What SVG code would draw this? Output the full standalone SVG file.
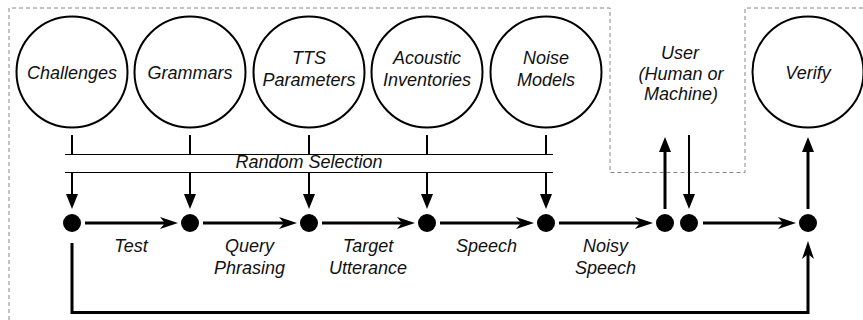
<svg xmlns="http://www.w3.org/2000/svg" width="863" height="320" viewBox="0 0 863 320">
  <style>
    .lbl { font-family: "Liberation Sans", Arial, sans-serif; font-style: italic; font-size: 18px; fill: #111; text-anchor: middle; }
    .src { fill: #fff; stroke: #000; stroke-width: 2; }
    .dot { fill: #000; }
    .thin { stroke: #000; stroke-width: 2; fill: none; }
    .thick { stroke: #000; stroke-width: 3; fill: none; }
    .band { stroke: #000; stroke-width: 1.2; }
    .frame { stroke: #888; stroke-width: 1; stroke-dasharray: 4 3; fill: none; }
  </style>
  <defs>
    <!-- barbed head for the thick flow arrows -->
    <marker id="barb" markerUnits="userSpaceOnUse" viewBox="0 0 18 12" markerWidth="18" markerHeight="12" refX="6" refY="6" orient="auto">
      <path d="M0,0 L18,6 L0,12 L5,6 Z" fill="#000"/>
    </marker>
    <!-- plain triangular head -->
    <marker id="tri" markerUnits="userSpaceOnUse" viewBox="0 0 15 12" markerWidth="15" markerHeight="12" refX="2" refY="6" orient="auto">
      <path d="M0,0 L15,6 L0,12 Z" fill="#000"/>
    </marker>
  </defs>

  <rect width="863" height="320" fill="#fff"/>

  <!-- dashed boundaries -->
  <path class="frame" d="M9,320 V8 H610 V172.5 H745 V8 H863"/>

  <!-- source circles -->
  <g id="challenges"><circle class="src" cx="72" cy="72" r="55.5"/><text class="lbl" x="72" y="79">Challenges</text></g>
  <g id="grammars"><circle class="src" cx="190" cy="72" r="55.5"/><text class="lbl" x="190" y="79">Grammars</text></g>
  <g id="tts"><circle class="src" cx="309" cy="72" r="55.5"/><text class="lbl" x="309" y="64">TTS</text><text class="lbl" x="309" y="86">Parameters</text></g>
  <g id="acoustic"><circle class="src" cx="427" cy="72" r="55.5"/><text class="lbl" x="427" y="64">Acoustic</text><text class="lbl" x="427" y="86">Inventories</text></g>
  <g id="noise"><circle class="src" cx="546" cy="72" r="55.5"/><text class="lbl" x="546" y="64">Noise</text><text class="lbl" x="546" y="86">Models</text></g>
  <g id="user"><text class="lbl" x="680" y="59">User</text><text class="lbl" x="681" y="80">(Human or</text><text class="lbl" x="681" y="100">Machine)</text></g>
  <g id="verify"><circle class="src" cx="808" cy="72" r="55.5"/><text class="lbl" x="808" y="79">Verify</text></g>

  <!-- random selection band -->
  <g id="random-selection">
    <line class="band" x1="65" y1="154.5" x2="553" y2="154.5"/>
    <line class="band" x1="65" y1="172.5" x2="553" y2="172.5"/>
    <text class="lbl" x="309" y="168">Random Selection</text>
  </g>

  <!-- pipeline points -->
  <g id="points">
    <circle class="dot" cx="72" cy="223" r="9"/>
    <circle class="dot" cx="190" cy="223" r="9"/>
    <circle class="dot" cx="309" cy="223" r="9"/>
    <circle class="dot" cx="427" cy="223" r="9"/>
    <circle class="dot" cx="546" cy="223" r="9"/>
    <circle class="dot" cx="665" cy="223" r="9"/>
    <circle class="dot" cx="689" cy="223" r="9"/>
    <circle class="dot" cx="808" cy="223" r="9"/>
  </g>

  <g id="connectors">
    <!-- circles into the band -->
    <line class="thin" x1="72" y1="135" x2="72" y2="154"/>
    <line class="thin" x1="190" y1="135" x2="190" y2="154"/>
    <line class="thin" x1="309" y1="135" x2="309" y2="154"/>
    <line class="thin" x1="427" y1="135" x2="427" y2="154"/>
    <line class="thin" x1="546" y1="135" x2="546" y2="154"/>
    <!-- band down to points -->
    <line class="thin" x1="72" y1="173" x2="72" y2="196" marker-end="url(#tri)"/>
    <line class="thin" x1="190" y1="173" x2="190" y2="196" marker-end="url(#tri)"/>
    <line class="thin" x1="309" y1="173" x2="309" y2="196" marker-end="url(#tri)"/>
    <line class="thin" x1="427" y1="173" x2="427" y2="196" marker-end="url(#tri)"/>
    <line class="thin" x1="546" y1="173" x2="546" y2="196" marker-end="url(#tri)"/>
    <!-- flow along the pipeline -->
    <line class="thick" x1="85" y1="223" x2="166" y2="223" marker-end="url(#barb)"/>
    <line class="thick" x1="203" y1="223" x2="285" y2="223" marker-end="url(#barb)"/>
    <line class="thick" x1="322" y1="223" x2="403" y2="223" marker-end="url(#barb)"/>
    <line class="thick" x1="440" y1="223" x2="522" y2="223" marker-end="url(#barb)"/>
    <line class="thick" x1="559" y1="223" x2="641" y2="223" marker-end="url(#barb)"/>
    <line class="thick" x1="703" y1="223" x2="784" y2="223" marker-end="url(#barb)"/>
    <!-- to and from the user -->
    <line class="thick" x1="665" y1="209" x2="665" y2="150" marker-end="url(#tri)"/>
    <line class="thin" x1="689" y1="135" x2="689" y2="196" marker-end="url(#tri)"/>
    <!-- to verification -->
    <line class="thick" x1="808" y1="209" x2="808" y2="150" marker-end="url(#tri)"/>
    <path class="thick" d="M72,243 V312.5 H808 V253" marker-end="url(#barb)"/>
  </g>

  <!-- stage labels -->
  <g id="stage-labels">
    <text class="lbl" x="131" y="252">Test</text>
    <text class="lbl" x="249.5" y="252">Query</text>
    <text class="lbl" x="249.5" y="274">Phrasing</text>
    <text class="lbl" x="368" y="252">Target</text>
    <text class="lbl" x="368" y="274">Utterance</text>
    <text class="lbl" x="486.5" y="252">Speech</text>
    <text class="lbl" x="605.5" y="252">Noisy</text>
    <text class="lbl" x="605.5" y="274">Speech</text>
  </g>
</svg>
